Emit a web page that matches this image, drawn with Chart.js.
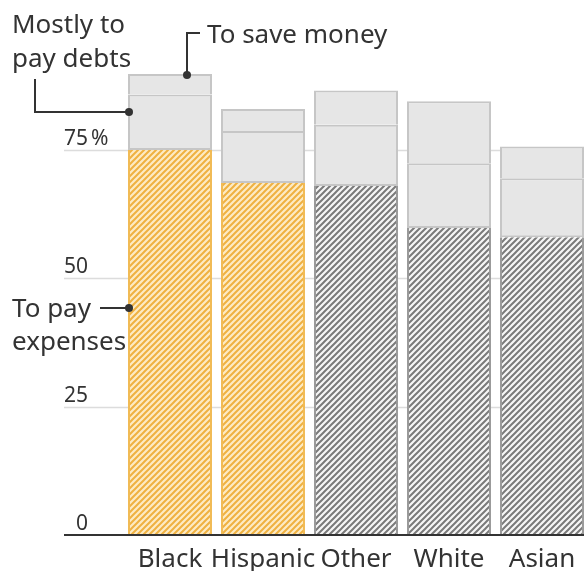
<!DOCTYPE html>
<html>
<head>
<meta charset="utf-8">
<script src="https://cdn.jsdelivr.net/npm/chart.js@4"></script>
<style>
  html, body { margin: 0; padding: 0; background: #fff; overflow: hidden; }
  #wrap { width: 600px; height: 571px; }
</style>
</head>
<body>
<div id="wrap"><canvas id="chart" width="600" height="571"></canvas></div>
<script>
// Chart data
const categories = ['Black', 'Hispanic', 'Other', 'White', 'Asian'];
const payExpenses = [75.0, 68.6, 68.0, 59.8, 58.0];
const payDebts = [10.8, 10.1, 11.9, 12.6, 11.5];
const saveMoney = [4.0, 4.3, 6.7, 12.1, 6.2];
const yTicks = [0, 25, 50, 75];
const highlighted = ['Black', 'Hispanic'];

const FONT = '"Noto Sans", "DejaVu Sans", sans-serif';
const TEXT = '#333333';

// Build a diagonal hatch pattern
function makeHatch(bg, stripe) {
    const size = 6;
    const c = document.createElement('canvas');
    c.width = size;
    c.height = size;
    const g = c.getContext('2d');
    g.fillStyle = bg;
    g.fillRect(0, 0, size, size);
    g.strokeStyle = stripe;
    g.lineWidth = 2;
    g.beginPath();
    for (let k = -1; k <= 1; k++) {
        g.moveTo(k * size - 1, size + 1);
        g.lineTo(k * size + size + 1, -1);
    }
    g.stroke();
    return g.createPattern(c, 'repeat');
}

const yellowHatch = makeHatch('#fdebc4', '#efb141');
const grayHatch = makeHatch('#f6f6f6', '#7a7a7a');

const hatchFills = categories.map(c => highlighted.includes(c) ? yellowHatch : grayHatch);
const hatchBorders = categories.map(c => highlighted.includes(c) ? '#f1bb55' : '#9a9a9a');

// Grid lines, tick labels, category labels and callouts
const decorations = {
    id: 'decorations',
    beforeDatasetsDraw(chart) {
        const ctx = chart.ctx;
        const y = chart.scales.y;
        ctx.save();
        ctx.strokeStyle = '#dcdcdc';
        ctx.lineWidth = 1.5;
        yTicks.filter(t => t > 0).forEach(t => {
            const py = Math.round(y.getPixelForValue(t)) + 0.5;
            ctx.beginPath();
            ctx.moveTo(64, py);
            ctx.lineTo(chart.width, py);
            ctx.stroke();
        });
        ctx.restore();
    },
    afterDatasetsDraw(chart) {
        const ctx = chart.ctx;
        const x = chart.scales.x;
        const y = chart.scales.y;
        ctx.save();

        // baseline
        const y0 = y.getPixelForValue(0);
        ctx.strokeStyle = '#333';
        ctx.lineWidth = 2;
        ctx.beginPath();
        ctx.moveTo(64, y0);
        ctx.lineTo(chart.width, y0);
        ctx.stroke();

        // tick labels
        ctx.fillStyle = TEXT;
        ctx.font = '21px ' + FONT;
        ctx.textBaseline = 'alphabetic';
        yTicks.forEach(t => {
            const py = y.getPixelForValue(t) - 5;
            ctx.textAlign = 'right';
            ctx.fillText(String(t), 88, py);
            if (t === 75) {
                ctx.textAlign = 'left';
                ctx.fillText('%', 91, py);
            }
        });

        // category labels
        ctx.font = '26px ' + FONT;
        ctx.textAlign = 'center';
        categories.forEach((c, i) => {
            ctx.fillText(c, x.getPixelForValue(i), 567);
        });

        // callouts
        ctx.textAlign = 'left';
        ctx.fillText('Mostly to', 12, 33);
        ctx.fillText('pay debts', 12, 67);
        ctx.fillText('To save money', 207, 43);
        ctx.fillText('To pay', 12, 317);
        ctx.fillText('expenses', 12, 350);

        ctx.strokeStyle = '#333';
        ctx.fillStyle = '#333';
        ctx.lineWidth = 2;
        const barLeft = x.getPixelForValue(0) - 42;
        const debtY = 112;
        const topY = y.getPixelForValue(payExpenses[0] + payDebts[0] + saveMoney[0]);
        const expY = 308;

        ctx.beginPath();
        ctx.moveTo(35, 79);
        ctx.lineTo(35, debtY);
        ctx.lineTo(barLeft + 1, debtY);
        ctx.stroke();

        ctx.beginPath();
        ctx.moveTo(200, 33);
        ctx.lineTo(187, 33);
        ctx.lineTo(187, topY + 1);
        ctx.stroke();

        ctx.beginPath();
        ctx.moveTo(100, expY);
        ctx.lineTo(barLeft + 1, expY);
        ctx.stroke();

        [[barLeft + 1, debtY], [187, topY + 1], [barLeft + 1, expY]].forEach(p => {
            ctx.beginPath();
            ctx.arc(p[0], p[1], 4, 0, Math.PI * 2);
            ctx.fill();
        });

        ctx.restore();
    }
};

new Chart(document.getElementById('chart'), {
    type: 'bar',
    data: {
        labels: categories,
        datasets: [
            {
                label: 'To pay expenses',
                data: payExpenses,
                backgroundColor: hatchFills,
                borderColor: hatchBorders,
                borderWidth: { left: 2, right: 2, top: 0, bottom: 0 },
                borderSkipped: false
            },
            {
                label: 'Mostly to pay debts',
                data: payDebts,
                backgroundColor: '#e6e6e6',
                borderColor: '#c6c6c6',
                borderWidth: 2,
                borderSkipped: false
            },
            {
                label: 'To save money',
                data: saveMoney,
                backgroundColor: '#e6e6e6',
                borderColor: '#c6c6c6',
                borderWidth: 2,
                borderSkipped: 'bottom'
            }
        ]
    },
    options: {
        responsive: false,
        animation: false,
        layout: { padding: { left: 123.5, right: 11.5, top: 21.7, bottom: 36 } },
        plugins: { legend: { display: false }, tooltip: { enabled: false } },
        datasets: { bar: { categoryPercentage: 1, barPercentage: 0.903 } },
        scales: {
            x: { stacked: true, display: false },
            y: { stacked: true, display: false, min: 0, max: 100 }
        }
    },
    plugins: [decorations]
});
</script>
</body>
</html>
